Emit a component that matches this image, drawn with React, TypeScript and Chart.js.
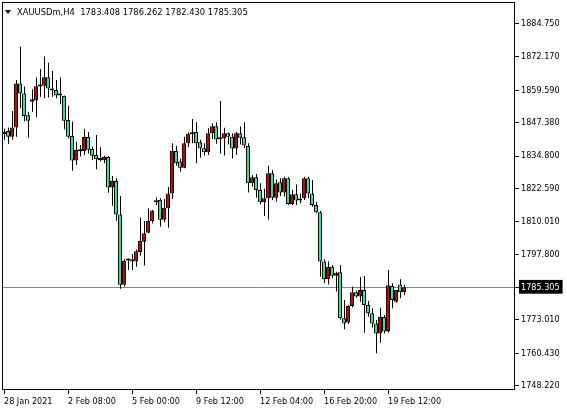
import { useEffect, useRef } from 'react';
import { Chart, registerables } from 'chart.js';

Chart.register(...registerables);

const symbolLabel = 'XAUUSDm,H4';
const lastBar = { open: 1783.408, high: 1786.262, low: 1782.43, close: 1785.305 };

const opens = [
  1843.1, 1844.2, 1842.1, 1845.6, 1862.2, 1858.4, 1850.2, 1855.3, 1855.7, 1861.0,
  1861.3, 1864.5, 1860.3, 1859.7, 1857.6, 1857.4, 1848.4, 1842.4, 1833.1, 1836.6,
  1836.7, 1842.0, 1837.5, 1835.2, 1833.6, 1833.2, 1834.4, 1822.9, 1825.4, 1812.8,
  1786.3, 1795.4, 1795.9, 1795.0, 1798.6, 1802.5, 1805.9, 1810.2, 1817.4, 1818.2,
  1810.8, 1815.1, 1820.7, 1836.7, 1832.7, 1830.4, 1839.6, 1843.0, 1843.9, 1840.0,
  1837.7, 1836.2, 1843.4, 1846.0, 1841.2, 1841.4, 1843.4, 1842.1, 1837.6, 1843.4,
  1841.9, 1838.6, 1824.5, 1826.8, 1822.0, 1817.4, 1818.9, 1828.3, 1819.1, 1824.9,
  1821.1, 1826.4, 1816.7, 1820.4, 1818.1, 1818.9, 1826.4, 1820.7, 1816.3, 1813.6,
  1795.0, 1788.3, 1793.1, 1789.7, 1791.0, 1773.6, 1772.0, 1778.3, 1783.4, 1781.8,
  1784.3, 1778.6, 1775.5, 1771.7, 1767.9, 1774.1, 1768.6, 1785.8, 1779.9, 1786.4,
  1783.408,
];
const highs = [
  1845.1, 1845.6, 1851.8, 1863.5, 1876.0, 1861.0, 1851.5, 1860.0, 1864.4, 1867.6,
  1872.3, 1870.0, 1866.9, 1863.5, 1864.4, 1857.6, 1853.8, 1847.8, 1840.2, 1839.0,
  1845.1, 1843.9, 1838.3, 1842.7, 1838.1, 1834.9, 1834.8, 1827.3, 1826.4, 1819.7,
  1795.9, 1796.2, 1797.9, 1799.6, 1811.6, 1810.3, 1815.1, 1814.5, 1819.2, 1818.9,
  1818.6, 1823.1, 1839.6, 1838.7, 1833.9, 1842.1, 1843.8, 1848.8, 1847.6, 1840.9,
  1839.6, 1845.3, 1847.1, 1847.5, 1855.6, 1845.5, 1843.7, 1843.4, 1844.0, 1845.9,
  1847.5, 1839.6, 1827.7, 1828.0, 1824.5, 1822.5, 1831.1, 1829.5, 1826.0, 1826.4,
  1827.0, 1826.8, 1822.0, 1824.1, 1820.7, 1827.0, 1827.0, 1825.8, 1817.6, 1814.1,
  1795.9, 1795.0, 1793.7, 1791.2, 1793.7, 1780.5, 1778.6, 1785.5, 1784.0, 1789.1,
  1789.6, 1780.1, 1777.4, 1773.0, 1777.6, 1774.9, 1791.8, 1786.8, 1784.3, 1788.3,
  1786.262,
];
const lows = [
  1840.9, 1839.3, 1840.9, 1842.1, 1852.8, 1847.8, 1841.7, 1851.5, 1849.4, 1857.2,
  1856.6, 1856.9, 1857.2, 1856.6, 1854.3, 1844.9, 1841.4, 1829.3, 1831.4, 1834.6,
  1835.2, 1835.8, 1833.3, 1829.8, 1832.7, 1832.1, 1821.0, 1816.1, 1810.4, 1784.8,
  1785.6, 1791.8, 1791.8, 1793.1, 1797.2, 1793.5, 1805.7, 1809.4, 1816.3, 1808.2,
  1809.8, 1807.8, 1818.6, 1831.1, 1828.9, 1830.2, 1838.1, 1839.6, 1832.1, 1834.2,
  1835.0, 1835.2, 1841.2, 1839.4, 1835.8, 1835.0, 1839.2, 1833.9, 1835.2, 1839.2,
  1837.7, 1821.1, 1823.3, 1819.1, 1816.6, 1812.2, 1810.9, 1818.2, 1817.6, 1819.7,
  1819.5, 1816.3, 1816.3, 1816.3, 1817.0, 1818.2, 1818.9, 1815.7, 1813.2, 1789.3,
  1786.8, 1786.4, 1788.7, 1783.7, 1773.2, 1769.5, 1771.5, 1777.8, 1781.5, 1779.9,
  1768.2, 1774.2, 1770.1, 1760.4, 1764.4, 1767.9, 1768.3, 1777.4, 1779.5, 1781.2,
  1782.43,
];
const closes = [
  1843.9, 1842.1, 1845.6, 1862.2, 1858.4, 1849.9, 1848.1, 1856.2, 1861.1, 1861.5,
  1864.5, 1860.3, 1859.5, 1857.6, 1857.7, 1848.1, 1842.1, 1833.1, 1837.1, 1837.0,
  1842.0, 1837.2, 1834.9, 1833.6, 1833.3, 1834.4, 1822.9, 1825.4, 1812.8, 1786.3,
  1795.2, 1795.7, 1795.0, 1798.9, 1802.8, 1805.7, 1810.3, 1814.3, 1818.1, 1810.8,
  1815.3, 1820.7, 1836.7, 1832.1, 1830.4, 1839.6, 1843.2, 1843.8, 1839.6, 1837.6,
  1836.2, 1843.4, 1846.0, 1841.0, 1841.1, 1843.4, 1842.1, 1837.6, 1843.4, 1841.7,
  1838.8, 1824.5, 1826.8, 1822.0, 1817.4, 1818.9, 1828.3, 1819.1, 1824.5, 1821.1,
  1826.4, 1816.7, 1820.4, 1818.0, 1818.0, 1826.4, 1820.7, 1816.3, 1813.6, 1795.0,
  1788.3, 1793.1, 1789.7, 1790.8, 1773.6, 1771.7, 1778.3, 1783.4, 1781.8, 1784.3,
  1778.6, 1775.5, 1771.7, 1767.9, 1774.1, 1768.6, 1786.1, 1780.5, 1784.3, 1783.4,
  1785.305,
];

const timeTickIndex = [0, 16, 32, 48, 64, 80, 96];
const timeTickLabels = [
  '28 Jan 2021', '2 Feb 08:00', '5 Feb 00:00', '9 Feb 12:00',
  '12 Feb 04:00', '16 Feb 20:00', '19 Feb 12:00',
];
const priceTicks = [
  1884.75, 1872.17, 1859.59, 1847.38, 1834.8, 1822.59, 1810.01, 1797.8,
  1785.305, 1773.01, 1760.43, 1748.22,
];

const BULL = '#d00000';
const BEAR = '#2fe596';
const FAMILY = '"DejaVu Sans Condensed", "DejaVu Sans"';
const FONT = { family: FAMILY, size: 9, style: 'normal' };

export default function App() {
  const ref = useRef<HTMLCanvasElement | null>(null);

  useEffect(() => {
    const canvas = ref.current;
    if (!canvas) return;
    const last = lastBar.close;

    const framePlugin = {
      id: 'frame',
      beforeDatasetsDraw(chart: any) {
        const { ctx, chartArea } = chart;
        const y = Math.round(chart.scales.y.getPixelForValue(last)) + 0.5;
        ctx.save();
        ctx.strokeStyle = '#778899';
        ctx.lineWidth = 1;
        ctx.beginPath();
        ctx.moveTo(chartArea.left, y);
        ctx.lineTo(chartArea.right, y);
        ctx.stroke();
        ctx.restore();
      },
      afterDraw(chart: any) {
        const { ctx, chartArea } = chart;
        ctx.save();
        ctx.strokeStyle = '#000';
        ctx.lineWidth = 1;
        const l = Math.round(chartArea.left) + 0.5;
        const t = Math.round(chartArea.top) + 0.5;
        const r = Math.round(chartArea.right) - 0.5;
        const b = Math.round(chartArea.bottom) + 0.5;
        ctx.strokeRect(l, t, r - l, b - t);
        ctx.restore();
      },
    };

    const bodies = opens.map((o, i) => ({ x: i, y: [o, closes[i]] }));
    const wicks = lows.map((lo, i) => ({ x: i, y: [lo, highs[i]] }));

    const chart = new Chart(canvas, {
      type: 'bar',
      data: {
        datasets: [
          {
            label: 'body',
            data: bodies as any,
            xAxisID: 'x',
            backgroundColor: opens.map((o, i) => (closes[i] >= o ? BULL : BEAR)),
            borderColor: '#000',
            borderWidth: 1,
            borderSkipped: false,
            barThickness: 4,
            maxBarThickness: 4,
            minBarLength: 2,
            grouped: false,
            inflateAmount: 0,
          } as any,
          {
            label: 'wick',
            data: wicks as any,
            xAxisID: 'xw',
            backgroundColor: '#000',
            borderWidth: 0,
            barThickness: 1,
            maxBarThickness: 1,
            grouped: false,
            inflateAmount: 0,
          } as any,
        ],
      },
      options: {
        responsive: false,
        animation: false,
        events: [],
        layout: { padding: { left: 2, top: 2, right: 0, bottom: 0 } },
        plugins: { legend: { display: false }, tooltip: { enabled: false } },
        scales: {
          x: {
            type: 'linear',
            min: -0.5,
            max: 127.75,
            offset: false,
            afterBuildTicks: (s: any) => {
              s.ticks = timeTickIndex.map((v) => ({ value: v }));
            },
            afterFit: (s: any) => {
              s.height = 21;
              s.paddingLeft = 0;
              s.paddingRight = 0;
            },
            grid: { drawOnChartArea: false, drawTicks: true, tickLength: 5, color: '#000', offset: false },
            border: { display: false },
            ticks: {
              autoSkip: false,
              maxRotation: 0,
              align: 'start',
              padding: 2,
              color: '#000',
              font: FONT,
              callback: (v: any) => {
                const i = timeTickIndex.indexOf(Number(v));
                return i >= 0 ? timeTickLabels[i] : '';
              },
            },
          },
          xw: {
            type: 'linear',
            display: false,
            min: -0.625,
            max: 127.625,
            offset: false,
            afterFit: (s: any) => {
              s.height = 0;
              s.paddingLeft = 0;
              s.paddingRight = 0;
            },
          },
          y: {
            type: 'linear',
            position: 'right',
            min: 1746.955,
            max: 1892.89,
            afterBuildTicks: (s: any) => {
              s.ticks = priceTicks.map((v) => ({ value: v }));
            },
            afterFit: (s: any) => {
              s.width = 52;
              s.paddingTop = 0;
              s.paddingBottom = 0;
            },
            grid: { drawOnChartArea: false, drawTicks: true, tickLength: 4, color: '#000' },
            border: { display: false },
            ticks: {
              autoSkip: false,
              padding: 2,
              font: FONT,
              color: (c: any) => (c.tick && c.tick.value === last ? '#fff' : '#000'),
              showLabelBackdrop: (c: any) => !!(c.tick && c.tick.value === last),
              backdropColor: '#000',
              backdropPadding: { left: 2, right: 3, top: 2, bottom: 1 },
              callback: (v: any) => Number(v).toFixed(3),
            },
          },
        },
      } as any,
      plugins: [framePlugin],
    });

    return () => chart.destroy();
  }, []);

  const header = `${symbolLabel}  ${lastBar.open.toFixed(3)} ${lastBar.high.toFixed(3)} ${lastBar.low.toFixed(3)} ${lastBar.close.toFixed(3)}`;

  return (
    <div style={{ position: 'fixed', left: 0, top: 0, width: 567, height: 410, background: '#fff' }}>
      <canvas ref={ref} width={567} height={410} style={{ display: 'block' }} />
      <div
        style={{
          position: 'absolute',
          left: 5,
          top: 10,
          width: 0,
          height: 0,
          borderLeft: '3px solid transparent',
          borderRight: '3px solid transparent',
          borderTop: '4px solid #000',
        }}
      />
      <div
        style={{
          position: 'absolute',
          left: 17,
          top: 6,
          fontFamily: FAMILY,
          fontSize: 9.3,
          lineHeight: '11px',
          color: '#000',
          whiteSpace: 'pre',
        }}
      >
        {header}
      </div>
    </div>
  );
}
